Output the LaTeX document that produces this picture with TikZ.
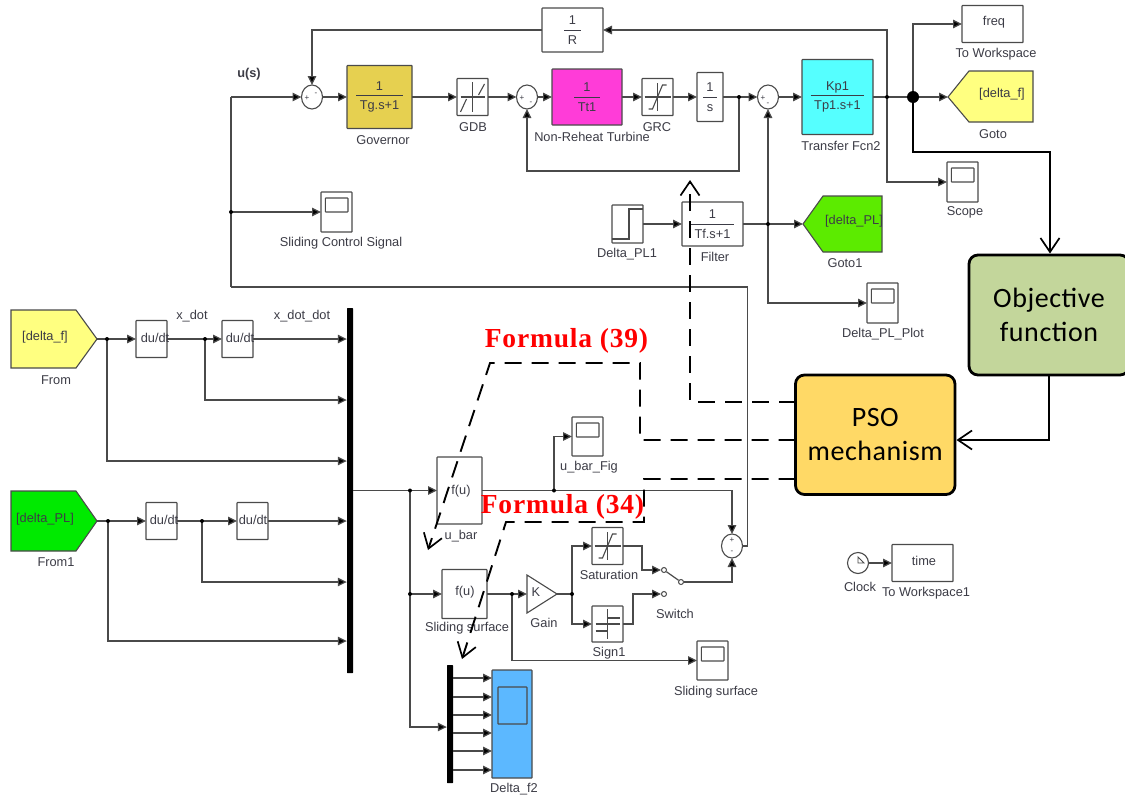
\documentclass[tikz,border=0pt]{standalone}
\usepackage{fontspec}
\setmainfont{Liberation Sans}
\newfontfamily\serifbold{Liberation Serif}[BoldFont={Liberation Serif Bold},LetterSpace=3]
\newfontfamily\calib{Carlito}[LetterSpace=2]
\usetikzlibrary{arrows.meta,shapes.geometric,calc}
\definecolor{edge}{HTML}{4A4A4A}
\definecolor{ink}{HTML}{3C3C46}
\definecolor{govfill}{HTML}{E6D050}
\definecolor{turbfill}{HTML}{FF3CD8}
\definecolor{tffill}{HTML}{55FFFF}
\definecolor{yellowtag}{HTML}{FFFF80}
\definecolor{greentag}{HTML}{5CEB00}
\definecolor{greenfrom}{HTML}{00EA00}
\definecolor{bluescope}{HTML}{5CB8FF}
\definecolor{objfill}{HTML}{C3D69B}
\definecolor{psofill}{HTML}{FFD966}
\newcommand{\txtsz}{\fontsize{12.8}{15}\selectfont}
\newcommand{\frc}[2]{$\displaystyle{\hbox{\rule[-2.5pt]{0pt}{0pt}#1}\over\hbox{\rule{0pt}{13pt}\;#2\;}}$}
\tikzset{
  x=1pt,y=-1pt,
  blk/.style={draw=edge,line width=1.2pt,fill=white,rounded corners=0.6pt,inner sep=0pt,outer sep=0pt,font=\txtsz,text=ink,anchor=north west},
  scopeblk/.style={blk,minimum width=31pt,minimum height=40pt,
    path picture={\draw[edge,line width=1.1pt]
      ([xshift=4.3pt,yshift=-6pt]path picture bounding box.north west) rectangle
      ([xshift=-4pt,yshift=-20pt]path picture bounding box.north east);}},
  sumblk/.style={draw=edge,line width=1.1pt,fill=white,ellipse,minimum width=21pt,minimum height=24pt,inner sep=0pt,outer sep=0pt},
  lbl/.style={font=\txtsz,text=ink,inner sep=0pt},
  sg/.style={font=\fontsize{8}{8}\selectfont,text=ink,inner sep=0pt},
  wire/.style={draw=edge,line width=1.2pt},
  arr/.style={wire,-{Triangle[length=9pt,width=8.5pt,fill=black]}},
  dotj/.style={circle,fill=black,inner sep=0pt,minimum size=4pt},
  icon/.style={draw=edge,line width=1.1pt},
  heavy/.style={draw=black,line width=1.9pt,-{Straight Barb[length=14pt,width=19pt,line width=1.7pt]}},
  dashy/.style={draw=black,line width=1.9pt,dash pattern=on 17pt off 10pt,-{Straight Barb[length=14pt,width=19pt,line width=1.7pt]}},
  tag/.style={draw=edge,line width=1.1pt},
  bus/.style={fill=black,rounded corners=0.5pt},
  bigbox/.style={draw=black,line width=2.8pt,rounded corners=9pt,inner sep=0pt,outer sep=0pt,text=black,
    font=\calib\fontsize{28}{34.5}\selectfont,align=center},
  formula/.style={font=\serifbold\bfseries\fontsize{27.5}{30}\selectfont,text=red,inner sep=0pt},
}
\begin{document}
\begin{tikzpicture}
\useasboundingbox (0,0) rectangle (1125,798);
\fill[white] (0,0) rectangle (1125,798);

% ---- blocks, top loop
\node[blk,minimum width=61pt,minimum height=44pt] (rbox) at (542,8) {\frc{1}{R}};
\node[sumblk] (s1) at (312,97) {};
\node[sg] (s1p) at (307,98) {+};
\node[sg] (s1m) at (316,94) {-};
\node[blk,fill=govfill,minimum width=65pt,minimum height=63pt] (gov) at (347,65.5) {\frc{1}{Tg.s+1}};
\node[blk,minimum width=31pt,minimum height=37pt] (gdb) at (457,78.5) {};
\node[sumblk] (s2) at (527,97) {};
\node[sg] (s2p) at (522,98) {+};
\node[sg] (s2m) at (531,103) {-};
\node[blk,fill=turbfill,minimum width=70pt,minimum height=56pt] (turb) at (552,69) {\frc{1}{Tt1}};
\node[blk,minimum width=31pt,minimum height=37pt] (grc) at (642,78.5) {};
\node[blk,minimum width=26pt,minimum height=49pt] (integ) at (697,72.5) {\frc{1}{s}};
\node[sumblk] (s3) at (768,97) {};
\node[sg] (s3p) at (763,98) {+};
\node[sg] (s3m) at (768,104) {-};
\node[blk,fill=tffill,minimum width=71pt,minimum height=75pt] (tf) at (802,59.5) {\frc{Kp1}{Tp1.s+1}};
\node[blk,minimum width=61pt,minimum height=37pt] (freq) at (962,5.5) {};
\node[lbl] (freqt) at (994,22) {freq};
\node[scopeblk] (scope) at (947,162) {};
\draw[tag,fill=yellowtag] (948,97) -- (969,71) -- (1033,71) -- (1033,122) -- (969,122) -- cycle;
\coordinate (gotoin) at (948,97);
\node[lbl] (gotot) at (1002,94) {[delta\_f]};
\node[scopeblk] (scsig) at (321,192) {};
\node[blk,minimum width=31pt,minimum height=38pt] (step) at (612,205) {};
\node[blk,minimum width=61pt,minimum height=44pt] (filt) at (682,202) {\frc{1}{Tf.s+1}};
\draw[tag,fill=greentag] (803,224) -- (823,196) -- (882,196) -- (882,252) -- (823,252) -- cycle;
\coordinate (goto1in) at (803,224);
\node[lbl] (goto1t) at (854,221) {[delta\_PL]};
\node[scopeblk] (dplot) at (867,283) {};

% ---- blocks, left part
\draw[tag,fill=yellowtag] (11,310) -- (76,310) -- (97,339) -- (76,368) -- (11,368) -- cycle;
\coordinate (fromout) at (97,339);
\node[lbl] (fromt) at (45,337) {[delta\_f]};
\draw[tag,fill=greenfrom] (11,491) -- (76,491) -- (97,521) -- (76,551) -- (11,551) -- cycle;
\coordinate (from1out) at (97,521);
\node[lbl] (from1t) at (45,519) {[delta\_PL]};
\node[blk,minimum width=31pt,minimum height=37pt] (d1) at (136,320.5) {};
\node[blk,minimum width=31pt,minimum height=37pt] (d2) at (222,320.5) {};
\node[blk,minimum width=31pt,minimum height=37pt] (d3) at (146,502.5) {};
\node[blk,minimum width=31pt,minimum height=37pt] (d4) at (237,502.5) {};
\node[bus,minimum width=6pt,minimum height=365pt,inner sep=0pt] (bus1) at (350,490.5) {};
\node[blk,minimum width=45pt,minimum height=67pt] (ubar) at (437,457) {};
\node[lbl] (ubart) at (461,491) {f(u)};
\node[blk,minimum width=45pt,minimum height=49pt] (surf) at (442,569.5) {};
\node[lbl] (surft) at (465,592) {f(u)};
\node[scopeblk,minimum height=39pt] (ubarfig) at (572,417) {};
\node[sumblk] (s4) at (732,546) {};
\node[sg] (s4p) at (732,540) {+};
\node[sg] (s4m) at (732,552) {-};
\draw[tag,fill=white] (527,575) -- (557,594) -- (527,613) -- cycle;
\coordinate (gainin) at (527,594);
\coordinate (gainout) at (557,594);
\node[lbl] (gaint) at (536,592) {K};
\node[blk,minimum width=31pt,minimum height=37pt] (sat) at (592,527.5) {};
\node[blk,minimum width=31pt,minimum height=36pt] (sign) at (592,606) {};
\node[circle,draw=edge,line width=1pt,fill=white,minimum size=5pt,inner sep=0pt] (swa) at (664,570) {};
\node[circle,draw=edge,line width=1pt,fill=white,minimum size=5pt,inner sep=0pt] (swb) at (664,594) {};
\node[circle,draw=edge,line width=1pt,fill=white,minimum size=5pt,inner sep=0pt] (swo) at (681,582) {};
\node[scopeblk,minimum height=39pt] (sscope) at (697,641) {};
\node[bus,minimum width=6pt,minimum height=118pt,inner sep=0pt] (bus2) at (450,724) {};
\node[blk,fill=bluescope,minimum width=40pt,minimum height=108pt,
  path picture={\draw[edge,line width=1.2pt,rounded corners=0.6pt]
    ([xshift=6pt,yshift=-17pt]path picture bounding box.north west) rectangle
    ([xshift=-5pt,yshift=-54pt]path picture bounding box.north east);}] (deltaf) at (492,670) {};
\node[circle,draw=edge,line width=1.1pt,fill=white,minimum size=21pt,inner sep=0pt,outer sep=0pt] (clock) at (858,563) {};
\node[blk,minimum width=61pt,minimum height=37pt] (timeb) at (892,544.5) {};
\node[lbl] (timet) at (924,561) {time};

% ---- big boxes
\node[bigbox,fill=objfill,minimum width=160pt,minimum height=120pt,anchor=north west] (obj) at (969,255) {Objective\\function};
\node[bigbox,fill=psofill,minimum width=159.5pt,minimum height=119.5pt,anchor=north west] (pso) at (795.5,375) {PSO\\mechanism};
\useasboundingbox (0,0) rectangle (1125,798);

% ---- icons
\begin{scope}[shift={(gdb.center)}]
 \draw[icon] (0,-15) -- (0,15);
 \draw[icon] (-12,15) -- (-6,2);
 \draw[icon] (6,-2) -- (12,-13);
 \draw[icon] (-12,0) -- (12,0);
\end{scope}
\begin{scope}[shift={(grc.center)}]
 \draw[icon] (0,-14) -- (0,14);
 \draw[icon] (-13,0) -- (13,0);
 \draw[icon] (-9,12) -- (-5,12) -- (5,-12) -- (9,-12);
\end{scope}
\begin{scope}[shift={(sat.center)}]
 \draw[icon] (0,-14) -- (0,14);
 \draw[icon] (-13,0) -- (13,0);
 \draw[icon] (-9,12) -- (-5,12) -- (5,-12) -- (9,-12);
\end{scope}
\begin{scope}[shift={(sign.center)}]
 \draw[icon] (0,-15) -- (0,15);
 \draw[icon] (-12,0) -- (12,0);
 \draw[icon] (0,-6) -- (12,-6);
 \draw[icon] (-12,7) -- (0,7);
\end{scope}
\draw[icon] ($(step.south west)+(0,-4)$) -- ++(17,0) -- ++(0,-30) -- ($(step.east)+(0,-15)$);
\begin{scope}[shift={(clock.center)}]
 \draw[icon,line width=0.9pt] (0,0) -- (0,-6) -- (6,0) -- cycle;
\end{scope}

% ---- top loop wires
\coordinate (jf) at (913,97);
\coordinate (jn) at (887,97);
\coordinate (ji) at (739,97);
\coordinate (ju) at (231,97);
\coordinate (jsc) at (231,212);
\coordinate (jfl) at (768,224);
\draw[arr] (jn) |- (rbox.east);
\draw[arr] (rbox.west) -| (s1.north);
\draw[wire] (jsc) -- (ju);
\draw[arr] (ju) -- (s1.west);
\draw[arr] (s1.east) -- (gov.west);
\draw[arr] (gov.east) -- (gdb.west);
\draw[arr] (gdb.east) -- (s2.west);
\draw[arr] (s2.east) -- (turb.west);
\draw[arr] (turb.east) -- (grc.west);
\draw[arr] (grc.east) -- (integ.west);
\draw[arr] (integ.east) -- (s3.west);
\draw[arr] (s3.east) -- (tf.west);
\draw[wire] (tf.east) -- (jf);
\draw[arr] (jf) -- (gotoin);
\draw[arr] (jf) |- (freq.west);
\draw[arr] (jn) |- (scope.west);
\draw[arr] (ji) -- ++(0,74) -| (s2.south);
\draw[arr] (jsc) -- (scsig.west);
\draw[arr] (step.east) -- (filt.west);
\draw[arr] (filt.east) -- (goto1in);
\draw[arr] (jfl) -- (s3.south);
\draw[arr] (jfl) |- (dplot.west);
\coordinate (jd) at ($(jsc)+(0,75)$);
\draw[wire] (jsc) -- (jd);
\draw[wire] (jd) -- ($(s4.east)+(5,-259)$) -- ($(s4.east)+(5,0)$) -- (s4.east);

% ---- left wires
\coordinate (ja) at (107,339);
\coordinate (jb) at (205,339);
\coordinate (jc) at (108,521);
\coordinate (je) at (202,521);
\coordinate (busout) at (353,490.5);
\coordinate (j1) at (410,490.5);
\coordinate (j2) at (410,594);
\draw[wire] (fromout) -- (ja);
\draw[arr] (ja) -- (d1.west);
\draw[wire] (d1.east) -- (jb);
\draw[arr] (jb) -- (d2.west);
\draw[arr] (d2.east) -- (d2.east -| bus1.west);
\draw[arr] (jb) |- ($(bus1.west)+(0,-90.5)$);
\draw[arr] (ja) |- ($(bus1.west)+(0,-29.5)$);
\draw[wire] (from1out) -- (jc);
\draw[arr] (jc) -- (d3.west);
\draw[wire] (d3.east) -- (je);
\draw[arr] (je) -- (d4.west);
\draw[arr] (d4.east) -- (d4.east -| bus1.west);
\draw[arr] (je) |- ($(bus1.west)+(0,91.5)$);
\draw[arr] (jc) |- ($(bus1.west)+(0,150.5)$);

% ---- lower wires
\draw[wire] (busout) -- (j1);
\draw[arr] (j1) -- (ubar.west);
\draw[arr] (j1) |- ($(bus2.west)+(0,3)$);
\draw[arr] (j2) -- (surf.west);
\coordinate (ju2) at (554,490.5);
\coordinate (jg) at (512,594);
\coordinate (jk) at (572,594);
\draw[wire] (ubar.east) -- (ju2);
\draw[arr] (ju2) |- (ubarfig.west);
\draw[arr] (ju2) -| (s4.north);
\draw[wire] (surf.east) -- (jg);
\draw[arr] (jg) -- (gainin);
\draw[wire] (gainout) -- (jk);
\draw[arr] (jk) |- (sat.west);
\draw[arr] (jk) |- (sign.west);
\draw[arr] (sat.east) -- ++(19,0) |- (swa.west);
\draw[arr] (sign.east) -- ++(10,0) |- (swb.west);
\draw[wire] (swa) -- (swo);
\draw[arr] (swo.east) -| (s4.south);
\draw[arr] (jg) |- (sscope.west);
\foreach \yy [count=\i] in {678,697,715,733,751,770} {
  \coordinate (m\i) at (453,\yy);
  \draw[arr] (m\i) -- (m\i -| deltaf.west);
}
\draw[arr] (clock.east) -- (timeb.west);

% ---- junction dots
\foreach \p in {jn,ji,jsc,jfl,ja,jb,jc,je,j1,j2,ju2,jg,jk} \node[dotj] at (\p) {};
\node[circle,fill=black,inner sep=0pt,minimum size=12pt] (jbig) at (jf) {};

% ---- labels
\node[lbl,font=\bfseries\txtsz] (us) at (249,74) {u(s)};
\node[lbl] (l1) at (383,140) {Governor};
\node[lbl] (l2) at (473,127) {GDB};
\node[lbl] (l3) at (592,137) {Non-Reheat Turbine};
\node[lbl] (l4) at (657,127) {GRC};
\node[lbl] (l5) at (341,243) {Sliding Control Signal};
\node[lbl] (l6) at (627,254) {Delta\_PL1};
\node[lbl] (l7) at (715,257) {Filter};
\node[lbl] (l8) at (845,263) {Goto1};
\node[lbl] (l9) at (883,334) {Delta\_PL\_Plot};
\node[lbl] (l10) at (841,146) {Transfer Fcn2};
\node[lbl] (l11) at (996,54) {To Workspace};
\node[lbl] (l12) at (993,134) {Goto};
\node[lbl] (l13) at (965,212) {Scope};
\node[lbl] (l14) at (56,380) {From};
\node[lbl] (l15) at (56,562) {From1};
\node[lbl] (l16) at (192,316) {x\_dot};
\node[lbl] (l17) at (302,316) {x\_dot\_dot};
\node[lbl] (l18) at (461,536) {u\_bar};
\node[lbl] (l19) at (589,467) {u\_bar\_Fig};
\node[lbl] (l20) at (609,575) {Saturation};
\node[lbl] (l21) at (675,614) {Switch};
\node[lbl] (l22) at (544,623) {Gain};
\node[lbl] (l23) at (609,653) {Sign1};
\node[lbl] (l24) at (467,628) {Sliding surface};
\node[lbl] (l25) at (716,692) {Sliding surface};
\node[lbl] (l26) at (514,789) {Delta\_f2};
\node[lbl] (l27) at (860,587) {Clock};
\node[lbl] (l28) at (926,593) {To Workspace1};
\node[lbl] (dd1) at (155,338) {du/dt};
\node[lbl] (dd2) at (240,338) {du/dt};
\node[lbl] (dd3) at (164,520) {du/dt};
\node[lbl] (dd4) at (253,520) {du/dt};

% ---- objective links
\coordinate (objin) at ($(obj.north west)+(81,-1.5)$);
\coordinate (objdown) at ($(obj.south west)+(80,1)$);
\coordinate (psoin) at ($(pso.north east)+(1.5,65)$);
\draw[heavy] (jbig) -- (913,152) -| (objin);
\draw[heavy] (objdown) |- (psoin);

% ---- dashed PSO links
\coordinate (p1) at (pso.west |- 0,402);
\coordinate (p2) at (pso.west |- 0,440);
\coordinate (p3) at (pso.west |- 0,479);
\coordinate (t1) at (690,180);
\coordinate (t2) at (428,550);
\coordinate (t3) at (462,659);
\draw[dashy] (p1) -- (690,402) -- (t1);
\draw[dashy] (p2) -- (640,440) -- (640,363) -- (490,363) -- (t2);
\draw[dashy] (p3) -- (644,479) -- (644,522) -- (506,522) -- (t3);

% ---- formula labels
\node[formula] (f39) at (566.5,341) {Formula (39)};
\node[formula] (f34) at (562.5,507) {Formula (34)};
\end{tikzpicture}
\end{document}
